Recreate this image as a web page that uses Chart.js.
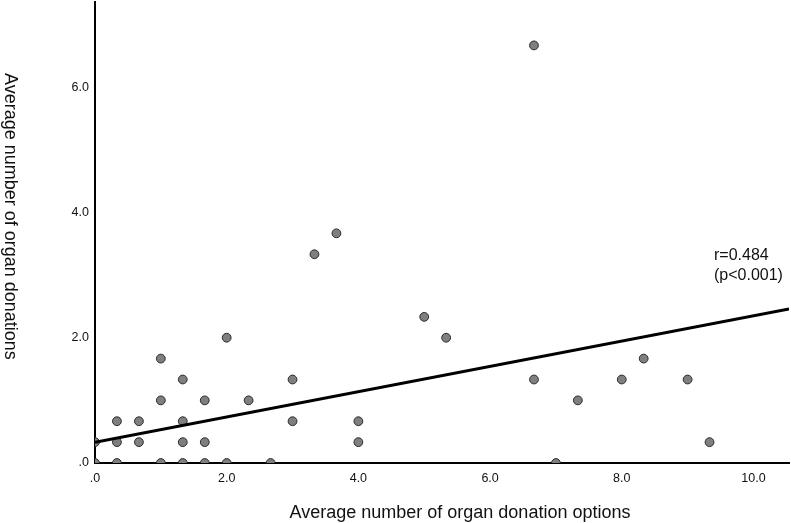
<!DOCTYPE html>
<html>
<head>
<meta charset="utf-8">
<title>Organ donation options vs donations</title>
<script src="https://cdn.jsdelivr.net/npm/chart.js@4/dist/chart.umd.min.js"></script>
<style>
  html, body { margin: 0; padding: 0; background: #fff; }
  #wrap { position: relative; width: 791px; height: 523px; }
</style>
</head>
<body>
<div id="wrap"><canvas id="chart"></canvas></div>
<script>
/* ── Data ────────────────────────────────────────────── */
const xLabel = 'Average number of organ donation options';
const yLabel = 'Average number of organ donations';
const corrText = ['r=0.484', '(p<0.001)'];

// one entry per point: options (x) and donations (y)
const optionsX = [
  0, 0,
  0.333, 0.333, 0.333,
  0.667, 0.667,
  1, 1, 1,
  1.333, 1.333, 1.333, 1.333,
  1.667, 1.667, 1.667,
  2, 2,
  2.333, 2.667,
  3, 3,
  3.333, 3.667,
  4, 4,
  5, 5.333,
  6.667, 6.667,
  7, 7.333,
  8, 8.333, 9, 9.333
];
const donationsY = [
  0, 0.333,
  0, 0.333, 0.667,
  0.333, 0.667,
  0, 1, 1.667,
  0, 0.333, 0.667, 1.333,
  0, 0.333, 1,
  0, 2,
  1, 0,
  0.667, 1.333,
  3.333, 3.667,
  0.333, 0.667,
  2.333, 2,
  6.667, 1.333,
  0, 1,
  1.333, 1.667, 1.333, 0.333
];

// fitted regression line, read at both ends of the x axis
const fitX = [0, 10.54];
const fitY = [0.33, 2.46];

const xTicks = [0, 2, 4, 6, 8, 10];
const yTicks = [0, 2, 4, 6];
const xMax = 10.54;
const yMax = 7.36;

/* ── Helpers ─────────────────────────────────────────── */
const FONT = '"Liberation Sans", Arial, sans-serif';
const fmt = v => (v === 0 ? '.0' : v.toFixed(1));
const toPoints = (xs, ys) => xs.map((x, i) => ({ x, y: ys[i] }));
const noPad = s => { s.paddingLeft = s.paddingRight = s.paddingTop = s.paddingBottom = 0; };

/* ── Titles + annotation ─────────────────────────────── */
const textPlugin = {
  id: 'texts',
  afterDraw(chart) {
    const { ctx, chartArea: a } = chart;
    ctx.save();
    ctx.fillStyle = '#111';

    // x title
    ctx.font = '18px ' + FONT;
    ctx.textAlign = 'center';
    ctx.textBaseline = 'alphabetic';
    ctx.fillText(xLabel, a.left + 365, a.bottom + 55);

    // y title, reading top to bottom
    ctx.save();
    ctx.translate(5, a.top + 71);
    ctx.rotate(Math.PI / 2);
    ctx.textAlign = 'left';
    ctx.fillText(yLabel, 0, 0);
    ctx.restore();

    // correlation note
    ctx.font = '16px ' + FONT;
    ctx.textAlign = 'left';
    corrText.forEach((t, i) => ctx.fillText(t, 714, 260 + i * 20));
    ctx.restore();
  }
};

/* ── Chart ───────────────────────────────────────────── */
new Chart(document.getElementById('chart'), {
  type: 'scatter',
  data: {
    datasets: [
      {
        type: 'line',
        data: toPoints(fitX, fitY),
        borderColor: '#000',
        borderWidth: 3,
        pointRadius: 0,
        fill: false,
        order: 0
      },
      {
        data: toPoints(optionsX, donationsY),
        backgroundColor: '#7f7f7f',
        borderColor: '#2a2a2a',
        borderWidth: 1,
        pointRadius: 4.4,
        order: 1
      }
    ]
  },
  options: {
    responsive: true,
    maintainAspectRatio: false,
    animation: false,
    layout: { autoPadding: false, padding: { top: 2, right: 2, left: 0, bottom: 0 } },
    plugins: {
      legend: { display: false },
      tooltip: { enabled: false }
    },
    scales: {
      x: {
        type: 'linear',
        min: 0,
        max: xMax,
        grid: { display: false, drawTicks: false },
        border: { display: true, color: '#000', width: 2 },
        afterBuildTicks: s => { s.ticks = xTicks.map(v => ({ value: v })); },
        afterFit: s => { s.height = 60; noPad(s); },
        ticks: {
          padding: 8.5,
          color: '#111',
          font: { family: FONT, size: 12.5 },
          maxRotation: 0,
          callback: v => fmt(v)
        }
      },
      y: {
        type: 'linear',
        min: 0,
        max: yMax,
        grid: { display: false, drawTicks: false },
        border: { display: true, color: '#000', width: 2 },
        afterBuildTicks: s => { s.ticks = yTicks.map(v => ({ value: v })); },
        afterFit: s => { s.width = 95; noPad(s); },
        ticks: {
          padding: 6,
          color: '#111',
          font: { family: FONT, size: 12.5 },
          callback: v => fmt(v)
        }
      }
    }
  },
  plugins: [textPlugin]
});
</script>
</body>
</html>
